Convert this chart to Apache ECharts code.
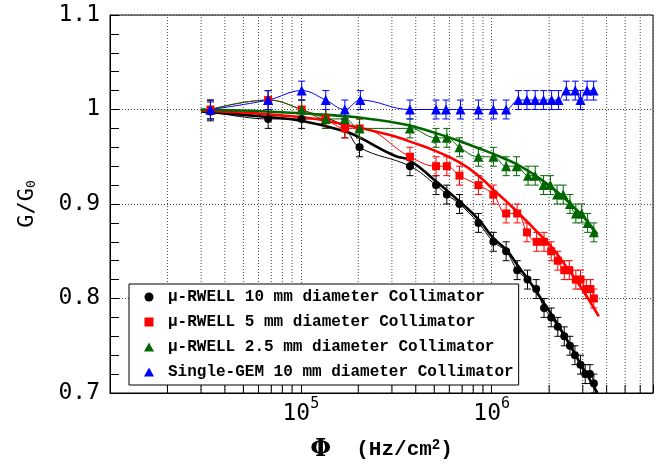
<!DOCTYPE html>
<html>
<head>
<meta charset="utf-8">
<script src="https://cdn.jsdelivr.net/npm/echarts@6/dist/echarts.min.js"></script>
<style>
  html, body { margin: 0; padding: 0; background: #fff; }
  #chart { width: 659px; height: 464px; }
</style>
</head>
<body>
<div id="chart"></div>
<script>
// Normalised gain G/G0 versus particle flux for three u-RWELL collimator sizes and a single GEM.

// u-RWELL, 10 mm collimator
const fluxRwell10 = [3.36e4, 6.74e4, 1.01e5, 1.35e5, 1.70e5, 2.03e5, 3.73e5, 5.11e5, 5.82e5, 6.78e5, 8.52e5, 1.02e6, 1.19e6, 1.36e6, 1.54e6, 1.71e6, 1.88e6, 2.05e6, 2.22e6, 2.40e6, 2.57e6, 2.73e6, 2.92e6, 3.09e6, 3.27e6, 3.43e6];
const gainRwell10 = [0.998, 0.99, 0.99, 0.99, 0.98, 0.96, 0.94, 0.92, 0.91, 0.90, 0.88, 0.86, 0.85, 0.83, 0.82, 0.81, 0.79, 0.78, 0.77, 0.76, 0.75, 0.74, 0.73, 0.72, 0.72, 0.71];

// u-RWELL, 5 mm collimator
const fluxRwell5 = [3.36e4, 6.74e4, 1.01e5, 1.35e5, 1.70e5, 2.03e5, 3.73e5, 5.11e5, 5.82e5, 6.78e5, 8.52e5, 1.02e6, 1.19e6, 1.36e6, 1.53e6, 1.72e6, 1.88e6, 2.05e6, 2.22e6, 2.40e6, 2.55e6, 2.76e6, 2.92e6, 3.13e6, 3.29e6, 3.43e6];
const gainRwell5 = [1.0, 1.01, 1.0, 0.99, 0.98, 0.98, 0.95, 0.94, 0.94, 0.93, 0.92, 0.91, 0.89, 0.89, 0.87, 0.86, 0.86, 0.85, 0.84, 0.83, 0.83, 0.82, 0.82, 0.81, 0.81, 0.80];

// u-RWELL, 2.5 mm collimator
const fluxRwell25 = [3.36e4, 6.74e4, 1.01e5, 1.35e5, 1.70e5, 2.03e5, 3.73e5, 5.11e5, 5.82e5, 6.78e5, 8.52e5, 1.02e6, 1.19e6, 1.35e6, 1.55e6, 1.69e6, 1.87e6, 2.03e6, 2.20e6, 2.37e6, 2.57e6, 2.76e6, 2.96e6, 3.18e6, 3.43e6];
const gainRwell25 = [1.0, 1.01, 1.0, 0.99, 0.99, 0.98, 0.98, 0.97, 0.97, 0.96, 0.95, 0.95, 0.94, 0.94, 0.93, 0.93, 0.92, 0.92, 0.91, 0.91, 0.90, 0.89, 0.89, 0.88, 0.87];

// Single GEM, 10 mm collimator
const fluxGem10 = [3.36e4, 6.74e4, 1.01e5, 1.35e5, 1.70e5, 2.05e5, 3.73e5, 5.11e5, 5.76e5, 6.86e5, 8.52e5, 1.02e6, 1.19e6, 1.38e6, 1.53e6, 1.69e6, 1.87e6, 2.06e6, 2.24e6, 2.46e6, 2.74e6, 2.92e6, 3.16e6, 3.42e6];
const gainGem10 = [1.0, 1.01, 1.02, 1.01, 1.0, 1.01, 1.0, 1.0, 1.0, 1.0, 1.0, 1.0, 1.0, 1.01, 1.01, 1.01, 1.01, 1.01, 1.01, 1.02, 1.02, 1.01, 1.02, 1.02];

// Fitted curves (sampled along the drawn fits)
const fitFluxRwell10 = [3.0e4, 6.7e4, 1.0e5, 1.7e5, 2.0e5, 3.1e5, 3.73e5, 5.1e5, 6.75e5, 8.5e5, 1.02e6, 1.2e6, 1.378e6, 1.593e6, 1.797e6, 2.028e6, 2.289e6, 2.583e6, 2.914e6, 3.289e6, 3.58e6];
const fitGainRwell10 = [0.998, 0.992, 0.988, 0.977, 0.971, 0.951, 0.946, 0.924, 0.903, 0.884, 0.864, 0.851, 0.834, 0.817, 0.801, 0.785, 0.768, 0.750, 0.731, 0.713, 0.700];
const fitFluxRwell5 = [3.0e4, 1.0e5, 1.7e5, 2.93e5, 3.73e5, 5.1e5, 6.78e5, 8.52e5, 1.02e6, 1.25e6, 1.72e6, 2.03e6, 2.37e6, 2.91e6, 3.64e6];
const fitGainRwell5 = [0.999, 0.992, 0.984, 0.973, 0.966, 0.956, 0.944, 0.930, 0.915, 0.899, 0.871, 0.856, 0.838, 0.813, 0.781];
const fitFluxRwell25 = [3.0e4, 1.0e5, 2.93e5, 5.1e5, 8.52e5, 1.108e6, 1.411e6, 1.87e6, 2.289e6, 2.744e6, 3.096e6, 3.58e6];
const fitGainRwell25 = [1.0, 0.996, 0.987, 0.975, 0.959, 0.950, 0.940, 0.924, 0.910, 0.895, 0.884, 0.868];

const gainError = 0.01;

const seriesNames = [
  'μ-RWELL 10 mm diameter Collimator',
  'μ-RWELL 5 mm diameter Collimator',
  'μ-RWELL 2.5 mm diameter Collimator',
  'Single-GEM 10 mm diameter Collimator'
];

// Axis ranges and the intermediate (2..9 x 10^n) grid positions of the log axis
const fluxMin = 1e4, fluxMax = 7e6;
const gainMin = 0.7, gainMax = 1.1, gainStep = 0.1;
const decadeSubFlux = [2e4, 3e4, 4e4, 5e4, 6e4, 7e4, 8e4, 9e4,
                       2e5, 3e5, 4e5, 5e5, 6e5, 7e5, 8e5, 9e5,
                       2e6, 3e6, 4e6, 5e6, 6e6];

const colBlack = '#000000', colRed = '#ff0000', colGreen = '#006600', colBlue = '#0000ff';

// Legend marker shapes kept square inside the wide legend item box
const iconSquare = 'path://M0,0L10,0L10,10L0,10Z';
const iconTriangle = 'path://M5,0L10,9L0,9Z';

function zip(xs, ys) { return xs.map((x, i) => [x, ys[i]]); }
function withErr(xs, ys) { return xs.map((x, i) => [x, ys[i], gainError]); }

function errorBarRenderer(color) {
  return function (params, api) {
    const x = api.value(0), y = api.value(1), e = api.value(2);
    const hi = api.coord([x, y + e]);
    const lo = api.coord([x, y - e]);
    const cap = 3.5;
    const style = { stroke: color, lineWidth: 1 };
    return {
      type: 'group',
      children: [
        { type: 'line', shape: { x1: hi[0], y1: hi[1], x2: lo[0], y2: lo[1] }, style: style },
        { type: 'line', shape: { x1: hi[0] - cap, y1: hi[1], x2: hi[0] + cap, y2: hi[1] }, style: style },
        { type: 'line', shape: { x1: lo[0] - cap, y1: lo[1], x2: lo[0] + cap, y2: lo[1] }, style: style }
      ]
    };
  };
}

// Dotted grid line plus a short inward tick for each sub-decade value
function subDecadeRenderer(params, api) {
  const x = api.value(0);
  const bottom = api.coord([x, gainMin]);
  const top = api.coord([x, gainMax]);
  return {
    type: 'group',
    children: [
      { type: 'line', shape: { x1: bottom[0], y1: bottom[1], x2: top[0], y2: top[1] },
        style: { stroke: '#444', lineWidth: 1, lineDash: [1, 2] } },
      { type: 'line', shape: { x1: bottom[0], y1: bottom[1], x2: bottom[0], y2: bottom[1] - 8 },
        style: { stroke: '#000', lineWidth: 1 } }
    ]
  };
}

function dataGroup(name, color, symbol, size, flux, gain, fitFlux, fitGain) {
  const out = [];
  if (fitFlux) {
    out.push({
      type: 'line', data: zip(fitFlux, fitGain), smooth: 0.5, showSymbol: false, silent: true,
      lineStyle: { color: color, width: 2.6 }, z: 3
    });
  }
  out.push({
    type: 'line', data: zip(flux, gain), smooth: 0.4, showSymbol: false, silent: true,
    lineStyle: { color: color, width: 1 }, z: 3
  });
  out.push({
    type: 'custom', data: withErr(flux, gain), renderItem: errorBarRenderer(color),
    encode: { x: 0, y: 1 }, clip: true, silent: true, z: 4
  });
  out.push({
    type: 'scatter', name: name, data: zip(flux, gain), symbol: symbol, symbolSize: size,
    itemStyle: { color: color, opacity: 1 }, z: 5
  });
  return out;
}

const chart = echarts.init(document.getElementById('chart'), null, { renderer: 'canvas' });

chart.setOption({
  animation: false,
  backgroundColor: '#fff',
  grid: {
    left: 110, top: 15, right: 6, bottom: 71,
    show: true, borderColor: '#000', borderWidth: 1, backgroundColor: 'transparent',
    containLabel: false, outerBoundsMode: 'none'
  },
  legend: {
    orient: 'vertical', left: 129, top: 284,
    itemWidth: 28, itemHeight: 9, itemGap: 9,
    symbolKeepAspect: true,
    padding: [5, 5, 5, 15],
    borderColor: '#000', borderWidth: 1, backgroundColor: '#fff',
    selectedMode: false,
    textStyle: { fontFamily: 'Liberation Mono', fontSize: 16, fontWeight: 'bold', color: '#000', lineHeight: 16 },
    data: [
      { name: seriesNames[0], icon: 'circle' },
      { name: seriesNames[1], icon: iconSquare },
      { name: seriesNames[2], icon: iconTriangle },
      { name: seriesNames[3], icon: iconTriangle }
    ],
    z: 10
  },
  xAxis: {
    type: 'log', logBase: 10, min: fluxMin, max: fluxMax,
    name: '{phi|Φ}  (Hz/cm{sup|2})',
    nameLocation: 'middle', nameGap: 45,
    nameTextStyle: {
      fontFamily: 'Liberation Mono', fontSize: 21, fontWeight: 'bold', color: '#000',
      rich: {
        phi: { fontFamily: 'DejaVu Serif', fontSize: 24, color: '#000' },
        sup: { fontFamily: 'Liberation Mono', fontSize: 14, fontWeight: 'bold', verticalAlign: 'top', color: '#000' }
      }
    },
    axisLine: { show: true, onZero: false, lineStyle: { color: '#000', width: 1 } },
    axisTick: { show: true, inside: true, length: 8, lineStyle: { color: '#000' } },
    splitLine: { show: true, lineStyle: { color: '#444', width: 1, type: [1, 2] } },
    axisLabel: {
      margin: 4, color: '#000',
      formatter: function (v) {
        const e = Math.round(Math.log10(v));
        if (Math.abs(Math.log10(v) - e) > 1e-6 || e < 5 || e > 6) return '';
        return '{b|10}{s|' + e + '}';
      },
      rich: {
        b: { fontFamily: 'DejaVu Sans Mono', fontSize: 23, lineHeight: 34, color: '#000' },
        s: { fontFamily: 'DejaVu Sans Mono', fontSize: 15, lineHeight: 15, verticalAlign: 'top', color: '#000' }
      }
    }
  },
  yAxis: {
    type: 'value', min: gainMin, max: gainMax, interval: gainStep,
    name: 'G/G{sub|0}',
    nameLocation: 'middle', nameGap: 72,
    nameTextStyle: {
      fontFamily: 'DejaVu Sans Mono', fontSize: 22, color: '#000',
      rich: { sub: { fontFamily: 'DejaVu Sans Mono', fontSize: 13, verticalAlign: 'bottom', color: '#000' } }
    },
    axisLine: { show: true, lineStyle: { color: '#000', width: 1 } },
    axisTick: { show: true, inside: true, length: 9, lineStyle: { color: '#000' } },
    minorTick: { show: true, splitNumber: 5, length: 9, lineStyle: { color: '#000' } },
    splitLine: { show: true, lineStyle: { color: '#444', width: 1, type: [1, 2] } },
    axisLabel: {
      margin: 10, color: '#000', fontFamily: 'DejaVu Sans Mono', fontSize: 23,
      formatter: function (v) { return String(Math.round(v * 10) / 10); }
    }
  },
  series: [
    {
      type: 'custom', data: decadeSubFlux.map(v => [v, gainMin]), renderItem: subDecadeRenderer,
      encode: { x: 0, y: 1 }, silent: true, z: 1
    }
  ]
    .concat(dataGroup(seriesNames[0], colBlack, 'circle', 8, fluxRwell10, gainRwell10, fitFluxRwell10, fitGainRwell10))
    .concat(dataGroup(seriesNames[1], colRed, 'rect', 8, fluxRwell5, gainRwell5, fitFluxRwell5, fitGainRwell5))
    .concat(dataGroup(seriesNames[2], colGreen, 'triangle', 10, fluxRwell25, gainRwell25, fitFluxRwell25, fitGainRwell25))
    .concat(dataGroup(seriesNames[3], colBlue, 'triangle', 10, fluxGem10, gainGem10, null, null))
});
</script>
</body>
</html>
